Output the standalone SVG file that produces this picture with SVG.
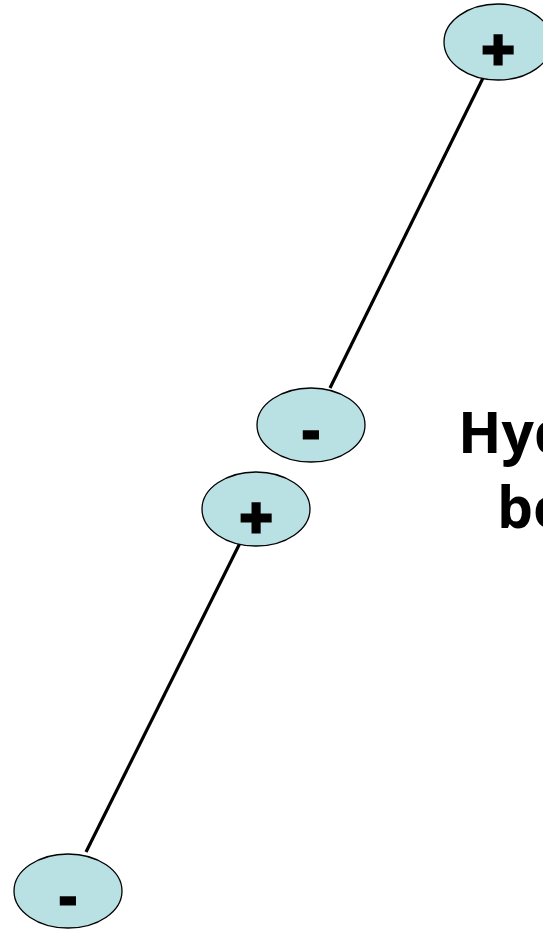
<svg xmlns="http://www.w3.org/2000/svg" width="543" height="930" viewBox="0 0 543 930">
  <style>
    .ion ellipse { fill: #b9e0e3; stroke: #000; stroke-width: 1.3; }
    .ion text { font-family: "Liberation Sans", Arial, sans-serif; font-weight: bold; fill: #000; stroke: #000; text-anchor: middle; }
    .plus { font-size: 56px; stroke-width: 3; }
    .minus { font-size: 52px; stroke-width: 3; }
    .bond { stroke: #000; stroke-width: 3.2; stroke-linecap: butt; fill: none; }
    .label { font-family: "Open Sans", "Liberation Sans", sans-serif; font-weight: bold; font-size: 57px; fill: #000; }
  </style>
  <rect width="543" height="930" fill="#fff"/>
  <g id="connectors">
    <line class="bond" x1="483" y1="78" x2="330" y2="388"/>
    <line class="bond" x1="240" y1="543" x2="86" y2="852"/>
  </g>
  <g id="ion-top-plus" class="ion">
    <ellipse cx="498" cy="42" rx="54" ry="38"/>
    <text class="plus" x="498" y="68">+</text>
  </g>
  <g id="ion-mid-minus" class="ion">
    <ellipse cx="311" cy="425" rx="54" ry="37"/>
    <text class="minus" x="311" y="448">-</text>
  </g>
  <g id="ion-mid-plus" class="ion">
    <ellipse cx="256" cy="509" rx="54" ry="37"/>
    <text class="plus" x="256" y="536">+</text>
  </g>
  <g id="ion-bottom-minus" class="ion">
    <ellipse cx="68" cy="891" rx="54" ry="37"/>
    <text class="minus" x="68" y="914">-</text>
  </g>
  <g id="label">
    <text class="label" x="458" y="453">Hydrogen</text>
    <text class="label" x="497" y="528">bonds</text>
  </g>
</svg>
